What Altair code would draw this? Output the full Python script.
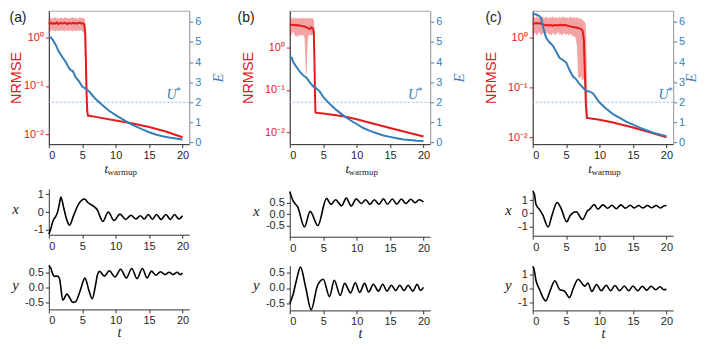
import altair as alt
import pandas as pd

RED = "#e41a1c"
BLUE = "#377eb8"
LBLUE = "#94bbe3"
DARK = "#333333"
GRAY = "#a6a6a6"
SANS = "Liberation Sans"
SERIF = "Liberation Serif"

W = 141
H_TOP = 134
H_X = 46
H_Y = 45

X_DOMAIN = [0, 21]
X_TICKS = [0, 5, 10, 15, 20]
E_DOMAIN = [-0.08, 6.55]
E_TICKS = [0, 1, 2, 3, 4, 5, 6]
LOG_TICKS = [0.01, 0.1, 1]
U_STAR = 2.0

# ---------------- panel (a) ----------------
band_t_a = [0.0, 0.2, 0.4, 0.6, 0.8, 1.0, 1.2, 1.4, 1.6, 1.8, 2.0, 2.2, 2.4, 2.6, 2.8, 3.0, 3.2, 3.4, 3.6, 3.8,
            4.0, 4.2, 4.4, 4.6, 4.8, 5.0, 5.2, 5.3, 5.4, 5.5, 5.6, 5.7, 5.8, 5.9]
band_hi_a = [2.5, 2.65, 2.45, 2.6, 2.55, 2.7, 2.5, 2.6, 2.45, 2.65, 2.55, 2.5, 2.7, 2.55, 2.6, 2.45, 2.6, 2.55, 2.7,
             2.5, 2.6, 2.55, 2.45, 2.65, 2.6, 2.5, 2.55, 2.6, 2.3, 1.5, 0.4, 0.07, 0.027, 0.0245]
band_lo_a = [1.4, 1.35, 1.45, 1.38, 1.42, 1.33, 1.45, 1.4, 1.36, 1.44, 1.38, 1.42, 1.35, 1.45, 1.4, 1.37, 1.43, 1.39,
             1.35, 1.44, 1.4, 1.36, 1.42, 1.38, 1.45, 1.35, 1.3, 1.0, 0.4, 0.12, 0.04, 0.027, 0.0235, 0.0235]
red_t_a = [0.0, 0.2, 0.4, 0.6, 0.8, 1.0, 1.2, 1.4, 1.6, 1.8, 2.0, 2.2, 2.4, 2.6, 2.8, 3.0, 3.2, 3.4, 3.6, 3.8,
           4.0, 4.2, 4.4, 4.6, 4.8, 5.0, 5.2, 5.3, 5.45, 5.55, 5.65, 5.75, 5.85, 7.0, 10.0, 12.0, 15.0, 17.5, 20.0]
red_a = [2.05, 1.96, 2.02, 1.93, 2.0, 1.97, 2.07, 1.92, 1.99, 2.03, 1.95, 2.0, 2.05, 1.97, 1.94, 2.02, 1.99, 1.95,
         2.04, 1.98, 2.02, 1.95, 2.0, 2.05, 1.97, 2.0, 1.96, 1.9, 1.2, 0.3, 0.07, 0.03, 0.0243,
         0.0228, 0.0192, 0.0172, 0.0140, 0.0113, 0.0086]
blue_t_a = [0, 0.3, 0.6, 1, 1.5, 2, 2.5, 3, 3.3, 3.6, 4, 4.5, 5, 5.5, 6, 6.5, 7, 8, 9, 10, 11, 12, 13, 14, 15, 16,
            17, 18, 19, 20]
E_a = [5.24, 5.22, 5.1, 4.87, 4.52, 4.25, 4.02, 3.71, 3.6, 3.55, 3.25, 3.05, 2.78, 2.68, 2.55, 2.35, 2.16, 1.86,
       1.58, 1.36, 1.16, 0.97, 0.8, 0.65, 0.51, 0.4, 0.31, 0.25, 0.2, 0.15]
xa_t = [0.0, 0.25, 0.5, 0.75, 1.0, 1.35, 1.6, 1.8, 2.23, 2.72, 3.1, 3.7, 4.45, 4.95, 5.35, 5.8, 6.2, 6.7, 7.3, 7.7,
        8.07, 8.9, 9.75, 10.64, 11.5, 12.3, 13.0, 13.7, 14.25, 14.9, 15.5, 16.1, 16.8, 17.5, 18.2, 18.8, 19.45, 20.0]
xa_v = [-1.24, -1.0, -0.65, -0.4, -0.27, 0.05, 0.5, 0.85, 0.23, -0.48, -0.74, -0.2, 0.44, 0.67, 0.73, 0.55, 0.44,
        0.32, 0.09, -0.3, -0.53, 0.0, -0.48, -0.12, -0.42, -0.18, -0.39, -0.21, -0.39, -0.14, -0.42, -0.14, -0.42,
        -0.14, -0.42, -0.14, -0.39, -0.21]
ya_t = [0.0, 0.3, 0.6, 0.9, 1.3, 1.6, 2.1, 2.7, 3.6, 4.0, 4.7, 5.4, 6.0, 6.5, 7.0, 7.3, 7.6, 8.3, 9.05, 9.9, 10.75,
        11.6, 12.4, 13.2, 14.0, 14.7, 15.35, 16.0, 16.7, 17.4, 18.0, 18.6, 19.2, 19.65, 20.0]
ya_v = [0.75, 0.66, 0.45, 0.38, 0.39, 0.3, -0.43, -0.22, -0.5, -0.48, -0.1, 0.32, -0.1, -0.38, 0.1, 0.45, 0.55,
        0.39, 0.57, 0.36, 0.62, 0.33, 0.65, 0.30, 0.65, 0.33, 0.56, 0.42, 0.54, 0.44, 0.52, 0.44, 0.52, 0.44, 0.49]

# ---------------- panel (b) ----------------
band_t_b = [0.0, 0.1, 0.2, 0.3, 0.4, 0.5, 0.6, 0.7, 0.8, 0.9, 1.0, 1.1, 1.2, 1.3, 1.4, 1.5, 1.6, 1.7, 1.8, 1.9,
            2.0, 2.1, 2.2, 2.3, 2.4, 2.5, 2.6, 2.7, 2.8, 2.9, 3.0, 3.1, 3.2, 3.3, 3.4, 3.5, 3.6, 3.7, 3.8, 3.9]
band_hi_b = [5.0, 5.2, 4.8, 5.3, 4.9, 5.1, 5.25, 4.85, 5.0, 5.3, 4.9, 5.15, 5.0, 4.8, 5.2, 5.05, 4.9, 5.3, 5.0,
             4.85, 5.2, 5.1, 4.9, 5.25, 5.0, 4.8, 5.15, 5.0, 5.2, 4.9, 5.1, 5.0, 4.85, 5.2, 5.0, 4.9,
             4.6, 2.5, 0.05, 0.0295]
band_lo_b = [1.8, 1.9, 2.05, 2.1, 2.3, 2.4, 2.25, 2.0, 1.95, 1.85, 1.8, 1.9, 2.0, 1.85, 1.95, 2.0, 1.9, 2.05, 1.95,
             2.0, 2.0, 1.9, 1.8, 0.8, 0.25, 0.23, 0.6, 1.6, 1.95, 2.0, 2.07, 1.95, 2.0, 1.95, 2.05, 2.1,
             1.5, 0.1, 0.028, 0.0285]
red_t_b = [0.0, 0.2, 0.4, 0.6, 0.8, 1.0, 1.2, 1.4, 1.6, 1.8, 2.0, 2.2, 2.4, 2.6, 2.8, 3.0, 3.2, 3.4,
           3.5, 3.6, 3.7, 3.8, 3.85, 5.0, 8.0, 10.0, 12.0, 15.0, 17.5, 20.0]
red_b = [3.55, 3.5, 3.45, 3.52, 3.42, 3.46, 3.38, 3.42, 3.35, 3.3, 3.25, 3.22, 3.1, 3.0, 2.85, 2.8, 3.05, 2.9,
         2.85, 2.2, 0.4, 0.05, 0.029, 0.0276, 0.0237, 0.0203, 0.0167, 0.0125, 0.0099, 0.0079]
blue_t_b = [0, 0.3, 0.5, 1, 1.5, 2, 2.5, 3, 3.5, 4, 4.5, 5, 6, 7, 8, 9, 10, 11, 12, 13, 14, 15, 16, 17, 18, 19, 20]
E_b = [4.26, 4.21, 4.01, 3.75, 3.52, 3.34, 3.22, 2.99, 2.79, 2.68, 2.53, 2.27, 1.91, 1.61, 1.35, 1.12, 0.92, 0.72,
       0.58, 0.46, 0.35, 0.28, 0.21, 0.15, 0.12, 0.09, 0.08]
xb_t = [0.0, 0.5, 1.2, 2.2, 3.05, 4.2, 5.5, 6.15, 6.85, 7.75, 8.45, 9.2, 9.95, 10.7, 11.35, 12.0, 12.65, 13.35,
        14.0, 14.6, 15.35, 16.0, 16.7, 17.35, 18.1, 18.75, 19.35, 20.0]
xb_v = [0.97, 0.57, 0.3, -0.55, 0.12, -0.49, 0.68, 0.42, 0.62, 0.36, 0.69, 0.35, 0.66, 0.46, 0.62, 0.43, 0.62,
        0.43, 0.66, 0.43, 0.65, 0.43, 0.65, 0.46, 0.64, 0.49, 0.62, 0.53]
yb_t = [0.0, 0.5, 1.0, 1.6, 2.4, 3.2, 4.1, 5.0, 5.95, 6.65, 7.55, 8.2, 9.1, 9.8, 10.45, 11.2, 11.8, 12.5, 13.25,
        13.9, 14.55, 15.2, 15.85, 16.45, 17.1, 17.7, 18.4, 19.05, 19.55, 20.0]
yb_v = [-0.5, -0.2, 0.25, 0.67, 0.0, -0.7, 0.05, 0.28, -0.28, 0.25, -0.24, 0.15, -0.16, 0.17, -0.14, 0.15, -0.13,
        0.12, -0.1, 0.12, -0.1, 0.09, -0.08, 0.09, -0.08, 0.09, -0.1, 0.12, -0.08, 0.02]

# ---------------- panel (c) ----------------
band_t_c = [0.0, 0.2, 0.4, 0.6, 0.8, 1.0, 1.2, 1.4, 1.6, 1.8, 2.0, 2.2, 2.4, 2.6, 2.8, 3.0, 3.2, 3.4, 3.6, 3.8,
            4.0, 4.2, 4.4, 4.6, 4.8, 5.0, 5.2, 5.4, 5.6, 5.8, 6.0, 6.2, 6.4, 6.6, 6.8, 7.0, 7.2, 7.4, 7.6, 7.8,
            7.9, 8.0, 8.1, 8.2, 8.3]
band_hi_c = [2.5, 2.6, 2.45, 2.7, 2.55, 2.4, 2.6, 2.75, 2.5, 2.45, 2.65, 2.55, 2.4, 2.6, 2.5, 2.7, 2.45, 2.55, 2.6,
             2.4, 2.65, 2.5, 2.55, 2.7, 2.45, 2.6, 2.5, 2.4, 2.65, 2.55, 2.5, 2.6, 2.45, 2.55, 2.5, 2.4, 2.45, 2.3,
             2.2, 2.05, 1.9, 1.2, 0.2, 0.03, 0.025]
band_lo_c = [1.2, 1.15, 1.25, 1.1, 1.22, 1.3, 1.12, 1.18, 1.25, 1.1, 1.2, 1.28, 1.15, 1.2, 1.1, 1.25, 1.18, 1.12,
             1.22, 1.3, 1.15, 1.2, 1.1, 1.25, 1.18, 1.15, 1.22, 1.1, 1.2, 1.15, 1.05, 1.1, 1.0, 0.7,
             0.16, 0.15, 0.17, 0.14, 0.15, 0.12, 0.05, 0.03, 0.025, 0.024, 0.0238]
red_t_c = [0.0, 0.25, 0.5, 0.75, 1.0, 1.25, 1.5, 1.75, 2.0, 2.25, 2.5, 2.75, 3.0, 3.25, 3.5, 3.75, 4.0, 4.25, 4.5,
           4.75, 5.0, 5.25, 5.5, 5.75, 6.0, 6.25, 6.5, 6.75, 7.0, 7.25, 7.4, 7.5, 7.65, 7.8, 7.95, 8.1,
           10.0, 12.0, 15.0, 17.5, 20.0]
red_c = [1.88, 1.92, 1.96, 1.93, 1.97, 1.9, 1.85, 1.8, 1.77, 1.8, 1.76, 1.79, 1.74, 1.78, 1.8, 1.76, 1.79, 1.82,
         1.78, 1.8, 1.77, 1.74, 1.7, 1.68, 1.63, 1.62, 1.6, 1.57, 1.54, 1.48, 1.42, 1.3, 0.9, 0.2, 0.045, 0.0245,
         0.0225, 0.0198, 0.0158, 0.0126, 0.0100]
blue_t_c = [0, 0.5, 1, 1.3, 1.6, 2, 2.5, 3, 3.5, 4, 4.5, 5, 5.5, 6, 6.5, 7, 7.5, 8, 8.5, 9, 9.5, 10, 11, 12, 13,
            14, 15, 16, 17, 18, 19, 20]
E_c = [6.4, 6.36, 6.28, 6.13, 5.67, 5.2, 4.98, 4.82, 4.52, 4.21, 4.1, 3.98, 3.6, 3.29, 3.14, 2.91, 2.73, 2.57,
       2.53, 2.45, 2.22, 1.99, 1.68, 1.41, 1.23, 1.04, 0.89, 0.74, 0.61, 0.49, 0.4, 0.31]
xc_t = [0.0, 0.25, 0.5, 1.0, 1.5, 2.3, 2.9, 3.65, 4.2, 5.1, 5.6, 6.5, 7.45, 8.2, 8.5, 9.2, 9.75, 10.5, 11.2, 11.85,
        12.5, 13.2, 13.85, 14.6, 15.2, 15.85, 16.45, 17.15, 17.8, 18.45, 19.1, 19.6, 20.0]
xc_v = [1.67, 1.45, 0.66, 0.3, -0.12, -1.04, -0.12, 0.82, 0.42, -0.64, -0.16, 0.12, -0.47, 0.19, 0.3, 0.66, 0.31,
        0.64, 0.38, 0.61, 0.35, 0.64, 0.38, 0.61, 0.4, 0.59, 0.4, 0.59, 0.42, 0.59, 0.4, 0.55, 0.59]
yc_t = [0.0, 0.15, 0.5, 1.0, 1.95, 2.6, 3.3, 4.0, 4.8, 5.5, 6.1, 6.8, 7.5, 7.8, 8.25, 8.85, 9.55, 10.25, 11.0,
        11.65, 12.3, 13.0, 13.7, 14.35, 15.0, 15.7, 16.4, 17.05, 17.7, 18.4, 19.05, 19.6, 20.0]
yc_v = [1.55, 1.45, 0.54, -0.07, -0.9, -0.18, 0.54, -0.07, -0.22, -0.67, 0.04, 0.65, 0.27, 0.15, 0.38, -0.22, 0.27,
        -0.18, 0.22, -0.18, 0.2, -0.18, 0.16, -0.18, 0.16, -0.18, 0.14, -0.13, 0.14, -0.11, 0.11, -0.1, -0.08]

PANELS = [
    dict(letter="(a)", letter_x=-39.5, log_dom=[0.0062, 3.63], nrmse_x=-32, e_x=28, u_t=17.6, L=39.8, R=37,
         band=(band_t_a, band_lo_a, band_hi_a), red=(red_t_a, red_a), blue=(blue_t_a, E_a),
         xs=(xa_t, xa_v, [-1.28, 1.3], [-1, 0, 1], False), ys=(ya_t, ya_v, [-0.74, 0.78], [-0.5, 0, 0.5], True),
         title_x=-34),
    dict(letter="(b)", letter_x=-52.5, log_dom=[0.0052, 7.57], nrmse_x=-41, e_x=28, u_t=17.7, L=62, R=37,
         band=(band_t_b, band_lo_b, band_hi_b), red=(red_t_b, red_b), blue=(blue_t_b, E_b),
         xs=(xb_t, xb_v, [-0.97, 1.0], [-0.5, 0, 0.5], True), ys=(yb_t, yb_v, [-0.72, 0.72], [-0.5, 0, 0.5], True),
         title_x=-34),
    dict(letter="(c)", letter_x=-47.5, log_dom=[0.0073, 3.48], nrmse_x=-41, e_x=17, u_t=18.8, L=64, R=24,
         band=(band_t_c, band_lo_c, band_hi_c), red=(red_t_c, red_c), blue=(blue_t_c, E_c),
         xs=(xc_t, xc_v, [-1.7, 1.77], [-1, 0, 1], False), ys=(yc_t, yc_v, [-1.58, 1.62], [-1, 0, 1], False),
         title_x=-25),
]

B_TOP = 33
B_X = 16.5
B_Y = 30


def x_scale():
    return alt.Scale(domain=X_DOMAIN, nice=False, zero=False)


def extents(L, R, H, B):
    h = alt.Chart().mark_rule(opacity=0, strokeWidth=1).encode(
        x=alt.value(-L), x2=alt.value(W + R), y=alt.value(H / 2))
    v = alt.Chart().mark_rule(opacity=0, strokeWidth=1).encode(
        x=alt.value(W / 2), y=alt.value(0), y2=alt.value(H + B))
    return [h, v]


def top_panel(p):
    xa = alt.Axis(values=X_TICKS, format="d", title=None)
    ls = alt.Scale(type="log", domain=p["log_dom"], nice=False)
    la = alt.Axis(orient="left", values=LOG_TICKS,
                  labelExpr="datum.value > 0.5 ? '10\u2070' : (datum.value > 0.05 ? '10\u207b\u00b9' : '10\u207b\u00b2')",
                  labelColor=RED, tickColor=RED, domainColor=DARK,
                  title="NRMSE", titleColor=RED, titleFont=SANS, titleFontSize=14.5,
                  titleAngle=270, titleX=p["nrmse_x"], titleY=H_TOP / 2,
                  titleAlign="center", titleBaseline="middle")
    bt, blo, bhi = p["band"]
    rt, rv = p["red"]
    band_df = pd.DataFrame({"t": bt, "lo": blo, "hi": bhi})
    red_df = pd.DataFrame({"t": rt, "v": rv})
    band = alt.Chart(band_df).mark_area(color=RED, opacity=0.4).encode(
        x=alt.X("t:Q", scale=x_scale(), axis=xa),
        y=alt.Y("lo:Q", scale=ls, axis=la), y2="hi:Q")
    red = alt.Chart(red_df).mark_line(color=RED, strokeWidth=2).encode(
        x=alt.X("t:Q", scale=x_scale(), axis=xa),
        y=alt.Y("v:Q", scale=ls, axis=la))
    red_layer = alt.layer(band, red)

    es = alt.Scale(domain=E_DOMAIN, nice=False, zero=False)
    ea = alt.Axis(orient="right", values=E_TICKS, format="d",
                  labelColor=BLUE, tickColor=BLUE, domainColor=GRAY,
                  title="E", titleColor=BLUE, titleFont=SERIF, titleFontStyle="italic", titleFontSize=15,
                  titleAngle=270, titleX=p["e_x"], titleY=H_TOP / 2,
                  titleAlign="center", titleBaseline="middle")
    et, ev = p["blue"]
    blue_df = pd.DataFrame({"t": et, "E": ev})
    u_df = pd.DataFrame({"u": [U_STAR]})
    ut_df = pd.DataFrame({"t": [p["u_t"]], "E": [U_STAR]})
    dashed = alt.Chart(u_df).mark_rule(color=LBLUE, strokeDash=[2, 2], strokeWidth=1).encode(
        y=alt.Y("u:Q", scale=es, axis=ea))
    blue = alt.Chart(blue_df).mark_line(color=BLUE, strokeWidth=2).encode(
        x=alt.X("t:Q", scale=x_scale(), axis=xa),
        y=alt.Y("E:Q", scale=es, axis=ea))
    u_txt = alt.Chart(ut_df).mark_text(text="U", font=SERIF, fontStyle="italic", fontSize=14, color=BLUE,
                                       align="left", baseline="alphabetic", dy=-3.5).encode(
        x=alt.X("t:Q", scale=x_scale(), axis=xa), y=alt.Y("E:Q", scale=es, axis=ea))
    s_txt = alt.Chart(ut_df).mark_text(text="*", font=SERIF, fontSize=10, color=BLUE,
                                       align="left", baseline="alphabetic", dx=9.5, dy=-8.5).encode(
        x=alt.X("t:Q", scale=x_scale(), axis=xa), y=alt.Y("E:Q", scale=es, axis=ea))
    blue_layer = alt.layer(dashed, blue, u_txt, s_txt)

    letter = alt.Chart().mark_text(text=p["letter"], font=SANS, fontSize=14, color="#222222",
                                   align="left", baseline="top").encode(
        x=alt.value(p["letter_x"]), y=alt.value(0))
    t_main = alt.Chart().mark_text(text="t", font=SERIF, fontStyle="italic", fontSize=13, color="#222222",
                                   align="right", baseline="alphabetic").encode(
        x=alt.value(W / 2 - 11), y=alt.value(H_TOP + 29))
    t_sub = alt.Chart().mark_text(text="warmup", font=SERIF, fontSize=9, color="#222222",
                                  align="left", baseline="alphabetic").encode(
        x=alt.value(W / 2 - 11.5), y=alt.value(H_TOP + 30.5))

    return alt.layer(red_layer, blue_layer, letter, t_main, t_sub,
                     *extents(p["L"], p["R"], H_TOP, B_TOP)).resolve_scale(y="independent").properties(
        width=W, height=H_TOP, view=alt.ViewBackground(stroke=GRAY, strokeWidth=1))


def small_panel(series, title, H, B, p, t_title):
    t, v, dom, ticks, dec = series
    if t_title:
        xa = alt.Axis(values=X_TICKS, format="d", title="t", titleFont=SERIF, titleFontStyle="italic",
                      titleFontSize=14, titleColor="#222222", titleY=27, titleBaseline="alphabetic")
    else:
        xa = alt.Axis(values=X_TICKS, format="d", title=None)
    fmt = ".1f" if dec else "d"
    ya = alt.Axis(values=ticks,
                  labelExpr="replace(format(datum.value, '" + fmt + "'), '\u2212', '-')",
                  title=title, titleFont=SERIF, titleFontStyle="italic", titleFontSize=15, titleColor="#222222",
                  titleAngle=0, titleX=p["title_x"], titleY=H / 2 - 3,
                  titleAlign="center", titleBaseline="middle")
    df = pd.DataFrame({"t": t, "v": v})
    line = alt.Chart(df).mark_line(color="black", strokeWidth=1.6, interpolate="monotone").encode(
        x=alt.X("t:Q", scale=x_scale(), axis=xa),
        y=alt.Y("v:Q", scale=alt.Scale(domain=dom, nice=False, zero=False), axis=ya))
    return alt.layer(line, *extents(p["L"], p["R"], H, B)).properties(width=W, height=H)


columns = []
for p in PANELS:
    columns.append(alt.vconcat(
        top_panel(p),
        small_panel(p["xs"], "x", H_X, B_X, p, False),
        small_panel(p["ys"], "y", H_Y, B_Y, p, True),
        spacing=10))

chart = alt.hconcat(*columns, spacing=0).properties(padding=0)
chart = chart.configure_view(strokeWidth=0).configure_axis(
    labelFont=SANS, labelFontSize=11, labelColor="#262626", domainColor=DARK, tickColor=DARK,
    tickSize=3.5, labelPadding=2, grid=False, titleFontWeight="normal", domainWidth=1, tickWidth=1)

chart.save("out.html", embed_options={"renderer": "svg", "actions": False})
